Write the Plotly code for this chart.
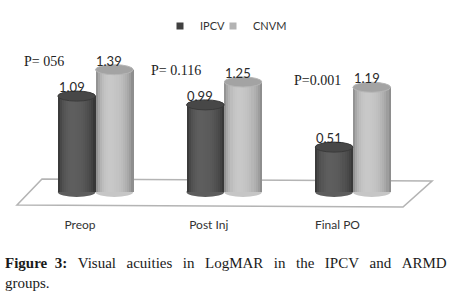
import math
import plotly.graph_objects as go

# ---------------- data ----------------
categories = ["Preop", "Post Inj", "Final PO"]
series_names = ["IPCV", "CNVM"]
ipcv_values = [1.09, 0.99, 0.51]
cnvm_values = [1.39, 1.25, 1.19]
ipcv_labels = ["1.09", "0.99", "0.51"]
cnvm_labels = ["1.39", "1.25", "1.19"]
p_labels = ["P= 056", "P= 0.116", "P=0.001"]
caption_bold = "Figure 3:"
caption_rest = "Visual acuities in LogMAR in the IPCV and ARMD"
caption_line2 = "groups."

# ---------------- geometry / style ----------------
W, H = 459, 298
MB = 88                     # bottom margin -> plot area height 210 px
PLOT_H = H - MB
X0_PX, X_UNIT = 95.5, 128.7  # px of group 0 centre, px per category
BASE_PX, Y_UNIT = 192.0, 88.0
xr = [-X0_PX / X_UNIT, (W - X0_PX) / X_UNIT]
yr = [-(PLOT_H - BASE_PX) / Y_UNIT, BASE_PX / Y_UNIT]

BAR_W = 37.7 / X_UNIT
E = 5.0 / Y_UNIT            # half-height of the cylinder ellipses
N_STRIPS = 18
xpos = list(range(len(categories)))

styles = {
    "IPCV": dict(edge=0x2c, peak=0x5e, top="#474747", rim="#3a3a3a",
                 legend="#404040", offset=-BAR_W, legend_ref="legend", legend_x=160),
    "CNVM": dict(edge=0x7c, peak=0xc8, top="#a3a3a3", rim="#b5b5b5",
                 legend="#b3b3b3", offset=0.0, legend_ref="legend2", legend_x=213),
}


def shade(t, edge, peak):
    c = 0.38
    if t < c:
        f = 1 - ((c - t) / c) ** 2
    else:
        f = 1 - ((t - c) / (1 - c)) ** 2
    f = max(f, 0) ** 0.6
    v = int(round(edge + (peak - edge) * f))
    return f"rgb({v},{v},{v})"


fig = go.Figure()
shapes = []

# floor (decorative parallelogram, plot-paper coordinates)
def pp(px, py):
    return px / W, (PLOT_H - py) / PLOT_H

corners = [pp(17, 205), pp(42, 179), pp(432, 181), pp(403, 207)]
path = "M " + " L ".join(f"{x:.4f},{y:.4f}" for x, y in corners) + " Z"
shapes.append(dict(type="path", path=path, xref="paper", yref="paper",
                   line=dict(color="#b4b4b4", width=1.6), fillcolor="white", layer="below"))

annotations = []
for name, vals, labs in [("IPCV", ipcv_values, ipcv_labels), ("CNVM", cnvm_values, cnvm_labels)]:
    st = styles[name]
    sw = BAR_W / N_STRIPS
    for k in range(N_STRIPS):
        t = (k + 0.5) / N_STRIPS
        fig.add_trace(go.Bar(
            x=xpos, y=vals, width=sw * 1.15, offset=st["offset"] + k * sw,
            marker=dict(color=shade(t, st["edge"], st["peak"]), line=dict(width=0)),
            showlegend=False, hoverinfo="skip"))
    for xi, v, lab in zip(xpos, vals, labs):
        x0 = xi + st["offset"]
        x1 = x0 + BAR_W
        # rounded bottom
        shapes.append(dict(type="circle", xref="x", yref="y", x0=x0, x1=x1, y0=-E, y1=E,
                           fillcolor=shade(0.5, st["edge"], st["peak"]),
                           line=dict(width=0), layer="below"))
        # elliptical top
        shapes.append(dict(type="circle", xref="x", yref="y", x0=x0, x1=x1, y0=v - E, y1=v + E,
                           fillcolor=st["top"], line=dict(color=st["rim"], width=1), layer="above"))
        # value label (annotation so it sits above the cap)
        annotations.append(dict(x=x0 + BAR_W / 2 - 0.04, y=v + E, xref="x", yref="y",
                                text=lab, showarrow=False, xanchor="center", yanchor="bottom",
                                yshift=-6,
                                font=dict(family="Lato", size=13, color="#2a2a2a")))
    # legend entry
    fig.add_trace(go.Scatter(
        x=[None], y=[None], mode="markers", name=name, legend=st["legend_ref"],
        marker=dict(symbol="square", size=7, color=st["legend"])))

p_pos = [(44, 62), (176, 70), (317, 80)]
for lab, (px, py) in zip(p_labels, p_pos):
    x, y = pp(px, py)
    annotations.append(dict(text=lab, x=x, y=y, xref="paper", yref="paper",
                            showarrow=False, xanchor="center", yanchor="middle",
                            font=dict(family="Liberation Serif", size=14, color="#222222")))

# caption (justified look via non-breaking / thin spaces)
sp = "\u00a0\u00a0\u2009"
cap1 = ("<b>" + caption_bold.replace(" ", "\u00a0\u00a0") + "</b>" + sp
        + caption_rest.replace(" ", sp))
x, y = pp(3, 263)
annotations.append(dict(text=cap1, x=x, y=y, xref="paper", yref="paper", showarrow=False,
                        xanchor="left", yanchor="middle",
                        font=dict(family="Liberation Serif", size=15, color="#1a1a1a")))
x, y = pp(3, 283)
annotations.append(dict(text=caption_line2, x=x, y=y, xref="paper", yref="paper", showarrow=False,
                        xanchor="left", yanchor="middle",
                        font=dict(family="Liberation Serif", size=15, color="#1a1a1a")))

legend_common = dict(orientation="h", y=(PLOT_H - 26) / PLOT_H, xanchor="left",
                     yanchor="middle", font=dict(family="Lato", size=11, color="#333333"),
                     bgcolor="rgba(0,0,0,0)", itemwidth=30)

fig.update_layout(
    width=W, height=H,
    margin=dict(l=0, r=0, t=0, b=MB),
    paper_bgcolor="white", plot_bgcolor="rgba(0,0,0,0)",
    barmode="overlay", bargap=0,
    shapes=shapes, annotations=annotations,
    showlegend=True,
    legend=dict(x=styles["IPCV"]["legend_x"] / W, **legend_common),
    legend2=dict(x=styles["CNVM"]["legend_x"] / W, **legend_common),
    xaxis=dict(range=xr, tickvals=[p - 0.12 for p in xpos], ticktext=categories,
               showgrid=False, zeroline=False, showline=False, ticks="",
               ticklabelstandoff=6,
               tickfont=dict(family="Lato", size=12, color="#333333"), fixedrange=True),
    yaxis=dict(range=yr, visible=False, showgrid=False, zeroline=False, fixedrange=True),
)

fig.write_html("out.html", config={"displayModeBar": False},
               post_script="document.body.style.margin='0px';")
